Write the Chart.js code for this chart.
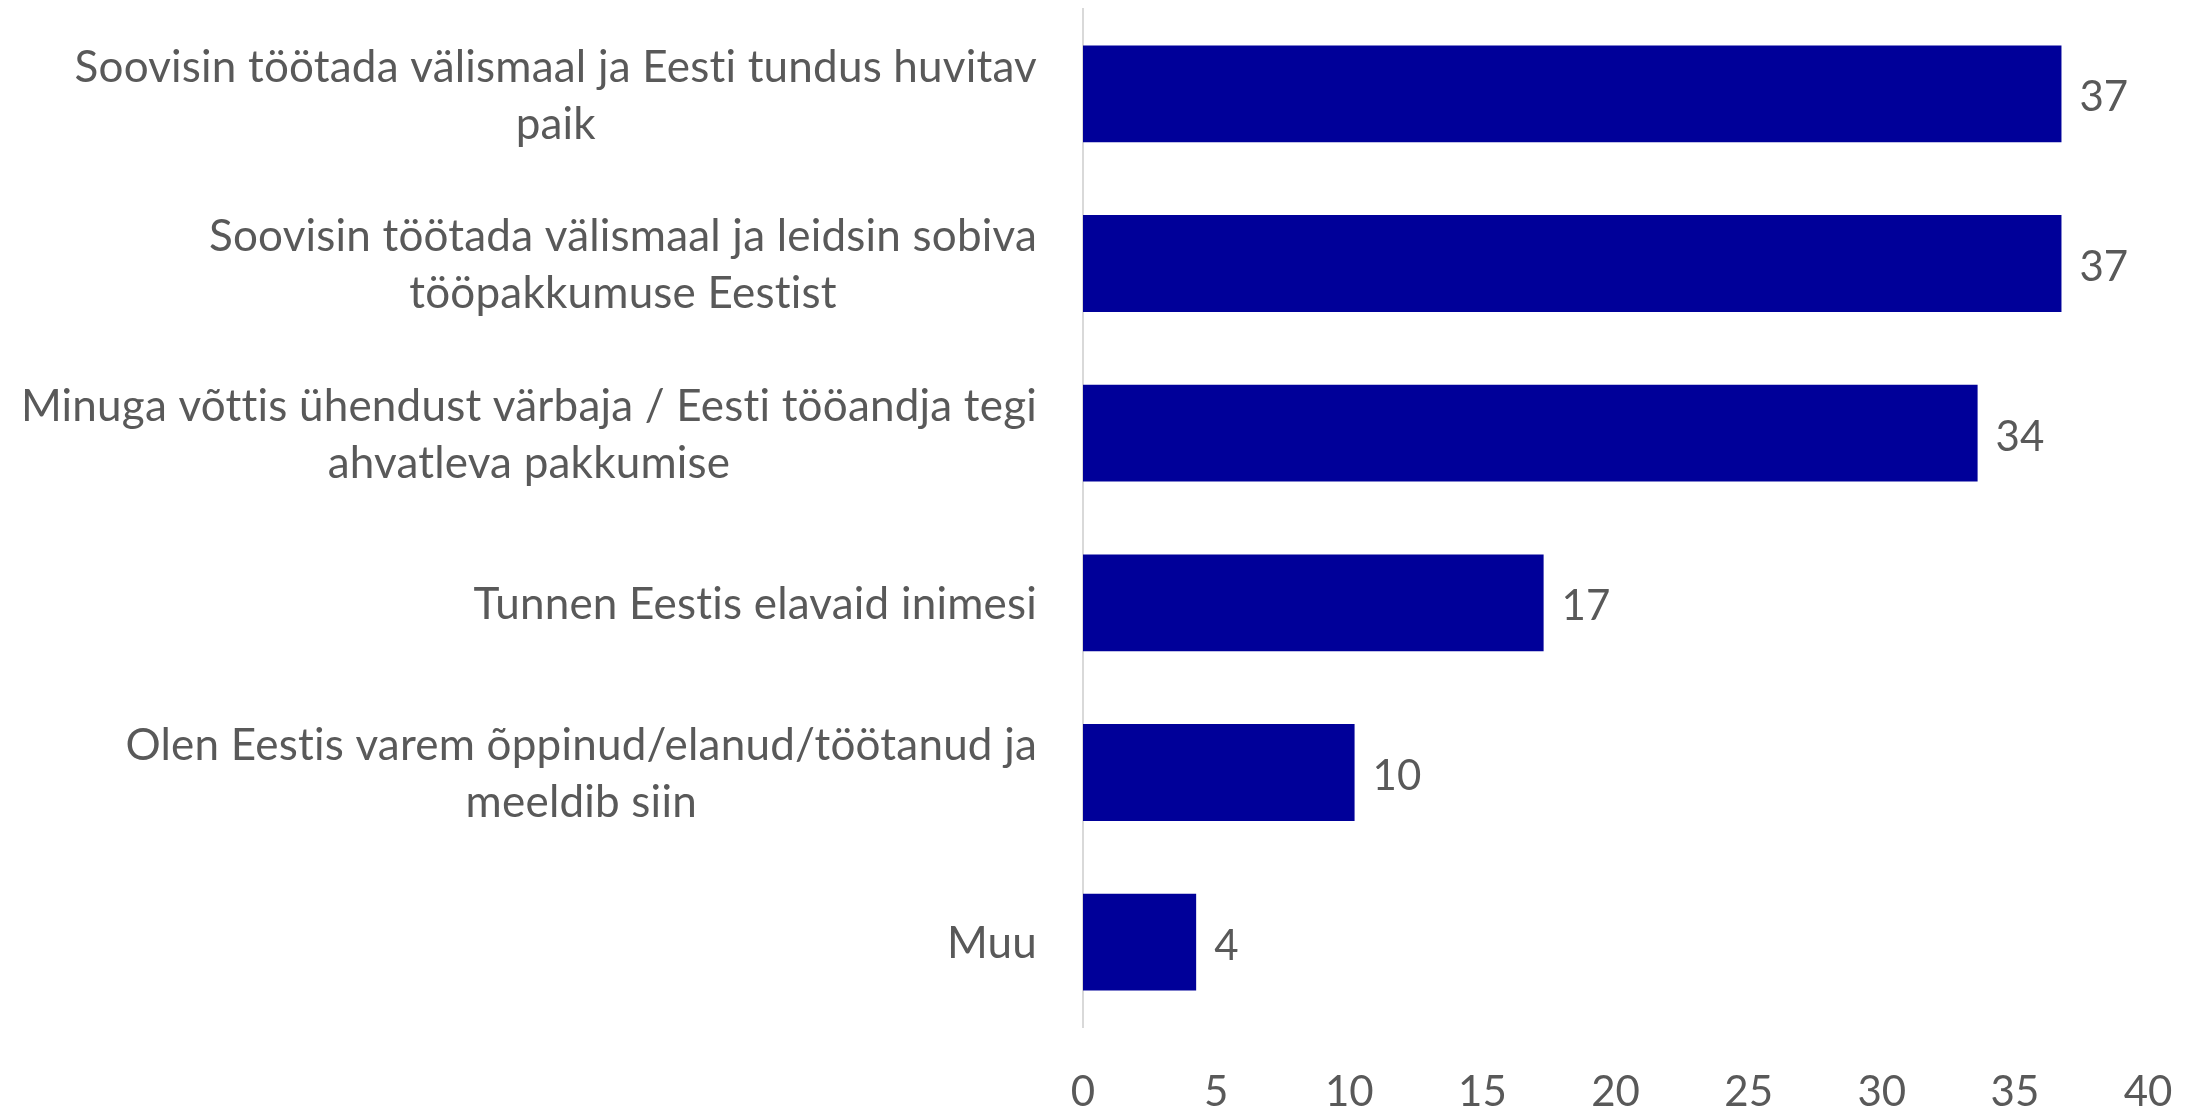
<!DOCTYPE html>
<html>
<head>
<meta charset="utf-8">
<script src="https://cdn.jsdelivr.net/npm/chart.js@4/dist/chart.umd.min.js"></script>
<style>
    body { margin: 0; background: #fff; }
    #wrap { width: 2190px; height: 1107px; }
</style>
</head>
<body>
<div id="wrap"><canvas id="barChart" width="2190" height="1107"></canvas></div>
<script>
const categories = [
    ['Soovisin töötada välismaal ja Eesti tundus huvitav', 'paik'],
    ['Soovisin töötada välismaal ja leidsin sobiva', 'tööpakkumuse Eestist'],
    ['Minuga võttis ühendust värbaja / Eesti tööandja tegi', 'ahvatleva pakkumise'],
    ['Tunnen Eestis elavaid inimesi'],
    ['Olen Eestis varem õppinud/elanud/töötanud ja', 'meeldib siin'],
    ['Muu']
];
const values = [36.75, 36.75, 33.6, 17.3, 10.2, 4.25];
const xTicks = [0, 5, 10, 15, 20, 25, 30, 35, 40];

const textColor = '#595959';
const fontFamily = 'Lato, "Open Sans", sans-serif';
const labelSize = 44;
const numberSize = 42;

// category labels: block right-aligned to the axis, lines centered inside the block
const categoryLabels = {
    id: 'categoryLabels',
    afterDraw(chart) {
        const ctx = chart.ctx;
        const yScale = chart.scales.y;
        const right = chart.chartArea.left - 46;
        ctx.save();
        ctx.font = labelSize + 'px ' + fontFamily;
        ctx.letterSpacing = '0.2px';
        ctx.fillStyle = textColor;
        ctx.textAlign = 'center';
        ctx.textBaseline = 'middle';
        categories.forEach((lines, i) => {
            const y = yScale.getPixelForValue(i) + 2;
            const blockW = Math.max(...lines.map(l => ctx.measureText(l).width));
            const cx = right - blockW / 2;
            lines.forEach((line, j) => {
                ctx.fillText(line, cx, y + (j - (lines.length - 1) / 2) * 57);
            });
        });
        ctx.restore();
    }
};

// value labels at the end of each bar
const valueLabels = {
    id: 'valueLabels',
    afterDatasetsDraw(chart) {
        const ctx = chart.ctx;
        const meta = chart.getDatasetMeta(0);
        ctx.save();
        ctx.font = numberSize + 'px ' + fontFamily;
        ctx.fillStyle = textColor;
        ctx.textAlign = 'left';
        ctx.textBaseline = 'middle';
        meta.data.forEach((bar, i) => {
            ctx.fillText(Math.round(values[i]), bar.x + 18, bar.y + 4);
        });
        ctx.restore();
    }
};

const ctx = document.getElementById('barChart').getContext('2d');
new Chart(ctx, {
    type: 'bar',
    data: {
        labels: categories.map(c => c.join(' ')),
        datasets: [{
            data: values,
            backgroundColor: '#000099',
            borderWidth: 0,
            barPercentage: 0.571,
            categoryPercentage: 1
        }]
    },
    options: {
        indexAxis: 'y',
        responsive: false,
        animation: false,
        devicePixelRatio: 1,
        layout: {
            padding: { top: 9, right: 42, left: 0, bottom: 0 }
        },
        plugins: {
            legend: { display: false },
            tooltip: { enabled: false }
        },
        scales: {
            x: {
                min: 0,
                max: 40,
                afterBuildTicks: scale => {
                    scale.ticks = xTicks.map(v => ({ value: v }));
                },
                afterFit: scale => {
                    scale.height = 80;
                    scale.paddingLeft = 0;
                    scale.paddingRight = 0;
                },
                grid: { display: false },
                border: { display: false },
                ticks: {
                    color: textColor,
                    padding: 32,
                    font: { family: fontFamily, size: numberSize }
                }
            },
            y: {
                afterFit: scale => { scale.width = 1083; },
                grid: { display: false },
                border: { display: true, color: '#d9d9d9', width: 2 },
                ticks: { display: false }
            }
        }
    },
    plugins: [categoryLabels, valueLabels]
});
</script>
</body>
</html>
